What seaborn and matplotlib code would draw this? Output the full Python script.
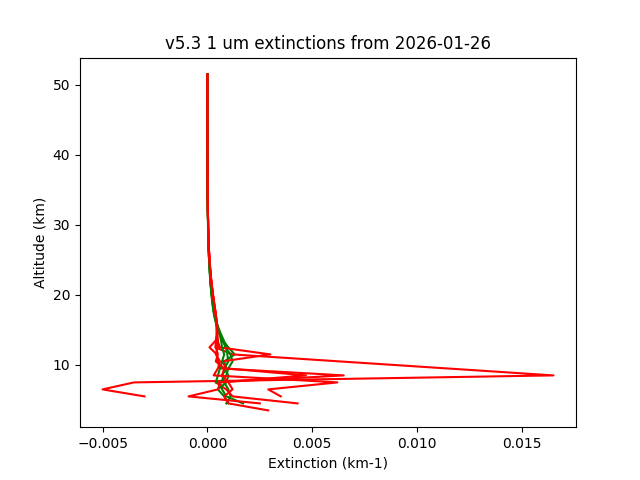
import numpy as np
import pandas as pd
import seaborn as sns
import matplotlib
matplotlib.use("Agg")
import matplotlib.pyplot as plt

# altitude grid (km), top down
altitude = [51.5, 50.5, 49.5, 48.5, 47.5, 46.5, 45.5, 44.5, 43.5, 42.5,
            41.5, 40.5, 39.5, 38.5, 37.5, 36.5, 35.5, 34.5, 33.5, 32.5,
            31.5, 30.5, 29.5, 28.5, 27.5, 26.5, 25.5, 24.5, 23.5, 22.5,
            21.5, 20.5, 19.5, 18.5, 17.5, 16.5, 15.5, 14.5, 13.5, 12.5,
            11.5, 10.5, 9.5, 8.5, 7.5, 6.5, 5.5, 4.5, 3.5]

# 1 um extinction profiles (km-1), top down, None = bad value
green_1 = [0, 0, 0, 0, 1e-6, 1e-6, 1e-6, 2e-6, 2e-6, 2e-6, 3e-6, 3e-6, 4e-6, 5e-6, 6e-6, 7e-6, 9e-6, 1.1e-5, 1.4e-5, 1.8e-5, 2.3e-5, 2.9e-5,
           3.0e-5, 3.8e-5, 4.7e-5, 5.8e-5, 7.2e-5, 9.0e-5, 1.10e-4, 1.30e-4, 1.55e-4, 1.85e-4, 2.20e-4, 2.60e-4, 3.10e-4, 3.80e-4, 4.80e-4, 6.00e-4,
           7.5e-4, 1.0e-3, 1.3e-3, 8.0e-4, 9.0e-4, 7.0e-4, 8.0e-4, 1.0e-3, 1.1e-3, 9.0e-4]
green_2 = [0, 0, 0, 1e-6, 1e-6, 1e-6, 2e-6, 2e-6, 2e-6, 3e-6, 3e-6, 4e-6, 4e-6, 5e-6, 6e-6, 8e-6, 1.0e-5, 1.2e-5, 1.5e-5, 1.9e-5, 2.4e-5, 3.0e-5,
           3.2e-5, 4.0e-5, 5.0e-5, 6.2e-5, 7.6e-5, 9.4e-5, 1.15e-4, 1.36e-4, 1.62e-4, 1.92e-4, 2.30e-4, 2.70e-4, 3.25e-4, 4.00e-4, 5.00e-4, 6.30e-4,
           7.8e-4, 8.5e-4, 1.1e-3, 1.2e-3, 1.0e-3, 9.0e-4, 6.0e-4, 7.0e-4, 9.0e-4, 1.7e-3]
green_3 = [0, 0, 0, 0, 0, 1e-6, 1e-6, 1e-6, 2e-6, 2e-6, 3e-6, 3e-6, 4e-6, 4e-6, 5e-6, 7e-6, 8e-6, 1.0e-5, 1.3e-5, 1.7e-5, 2.2e-5, 2.7e-5,
           2.8e-5, 3.6e-5, 4.5e-5, 5.5e-5, 6.9e-5, 8.6e-5, 1.05e-4, 1.25e-4, 1.50e-4, 1.80e-4, 2.12e-4, 2.50e-4, 2.95e-4, 3.60e-4, 4.50e-4, 5.60e-4,
           7.0e-4, 9.0e-4, 9.5e-4, 1.0e-3, 8.0e-4, 1.0e-3, 9.0e-4, 5.0e-4, 8.0e-4, 1.0e-3]
green_4 = [0, 0, 0, 0, 1e-6, 1e-6, 1e-6, 2e-6, 2e-6, 3e-6, 3e-6, 3e-6, 4e-6, 5e-6, 6e-6, 7e-6, 9e-6, 1.1e-5, 1.4e-5, 1.8e-5, 2.3e-5, 2.9e-5,
           3.1e-5, 3.9e-5, 4.9e-5, 6.0e-5, 7.4e-5, 9.2e-5, 1.12e-4, 1.33e-4, 1.58e-4, 1.88e-4, 2.25e-4, 2.65e-4, 3.15e-4, 3.90e-4, 4.90e-4, 5.80e-4,
           6.5e-4, 7.0e-4, 8.0e-4, 7.0e-4, 6.0e-4, 5.0e-4, 4.0e-4]

red_1 = [0, 0, 0, 0, 1e-6, 1e-6, 2e-6, 2e-6, 2e-6, 3e-6, 3e-6, 4e-6, 5e-6, 6e-6, 7e-6, 8e-6, 1.0e-5, 1.3e-5, 1.6e-5, 2.0e-5, 2.5e-5, 3.1e-5,
         3.6e-5, 4.5e-5, 5.6e-5, 7.0e-5, 8.8e-5, 1.10e-4, 1.35e-4, 1.65e-4, 2.00e-4, 2.40e-4, 2.85e-4, 3.30e-4, 3.80e-4, 4.20e-4, 4.50e-4, 4.60e-4,
         4.2e-4, 3.8e-4, 1.2e-3, None, None, 1.65e-2, -3.5e-3, -5.0e-3, -3.0e-3]
red_2 = [0, 0, 0, 1e-6, 1e-6, 1e-6, 2e-6, 2e-6, 3e-6, 3e-6, 4e-6, 4e-6, 5e-6, 6e-6, 7e-6, 9e-6, 1.1e-5, 1.3e-5, 1.7e-5, 2.1e-5, 2.6e-5, 3.2e-5,
         3.8e-5, 4.7e-5, 5.9e-5, 7.3e-5, 9.2e-5, 1.15e-4, 1.40e-4, 1.70e-4, 2.08e-4, 2.48e-4, 2.92e-4, 3.40e-4, 3.90e-4, 4.35e-4, 4.60e-4, 4.50e-4,
         4.0e-4, 1.0e-4, 4.5e-4, 5.0e-4, 6.0e-4, 6.5e-3, 4.0e-4, 9.0e-4, 1.2e-3, 4.3e-3]
red_3 = [0, 0, 0, 0, 1e-6, 1e-6, 1e-6, 2e-6, 2e-6, 3e-6, 3e-6, 4e-6, 4e-6, 5e-6, 6e-6, 8e-6, 1.0e-5, 1.2e-5, 1.5e-5, 1.9e-5, 2.4e-5, 3.0e-5,
         3.4e-5, 4.3e-5, 5.4e-5, 6.8e-5, 8.5e-5, 1.06e-4, 1.30e-4, 1.60e-4, 1.95e-4, 2.35e-4, 2.78e-4, 3.25e-4, 3.72e-4, 4.10e-4, 4.40e-4, 4.70e-4,
         4.8e-4, 6.0e-4, 3.0e-3, 7.0e-4, 9.0e-4, 4.7e-3, 6.0e-4, 5.0e-4, -9.0e-4, 2.5e-3]
red_4 = [0, 0, 0, 0, 1e-6, 1e-6, 2e-6, 2e-6, 2e-6, 3e-6, 3e-6, 4e-6, 5e-6, 6e-6, 7e-6, 8e-6, 1.0e-5, 1.3e-5, 1.6e-5, 2.0e-5, 2.5e-5, 3.1e-5,
         3.7e-5, 4.6e-5, 5.7e-5, 7.1e-5, 9.0e-5, 1.12e-4, 1.38e-4, 1.68e-4, 2.04e-4, 2.44e-4, 2.90e-4, 3.36e-4, 3.85e-4, 4.30e-4, 4.70e-4, 4.80e-4,
         4.5e-4, 5.0e-4, 4.0e-4, 6.0e-4, 5.0e-4, 3.0e-4, 6.2e-3, 2.9e-3, 3.5e-3]
red_5 = [0, 0, 0, 0, 0, 1e-6, 1e-6, 2e-6, 2e-6, 2e-6, 3e-6, 3e-6, 4e-6, 5e-6, 6e-6, 7e-6, 9e-6, 1.2e-5, 1.5e-5, 1.9e-5, 2.4e-5, 3.0e-5,
         3.5e-5, 4.4e-5, 5.5e-5, 6.9e-5, 8.7e-5, 1.08e-4, 1.33e-4, 1.62e-4, 1.98e-4, 2.38e-4, 2.82e-4, 3.28e-4, 3.76e-4, 4.15e-4, 4.40e-4, 4.40e-4,
         5.0e-4, 4.0e-4, 5.0e-4, 4.0e-4, 8.0e-4, 7.0e-4, 1.0e-3, 1.2e-3, 8.0e-4, 1.0e-3, 2.9e-3]

profiles = [(green_1, "green"), (red_1, "red"), (green_2, "green"), (red_2, "red"),
            (green_3, "green"), (red_3, "red"), (green_4, "green"), (red_4, "red"),
            (red_5, "red")]

fig, ax = plt.subplots(figsize=(6.4, 4.8), dpi=100)

for vals, colour in profiles:
    df = pd.DataFrame({"ext": vals, "alt": altitude[:len(vals)]}).astype(float).dropna()
    sns.lineplot(data=df, x="ext", y="alt", sort=False, estimator=None,
                 color=colour, linewidth=1.5, ax=ax)

ax.set_title("v5.3 1 um extinctions from 2026-01-26")
ax.set_xlabel("Extinction (km-1)")
ax.set_ylabel("Altitude (km)")

fig.savefig("out.png")
